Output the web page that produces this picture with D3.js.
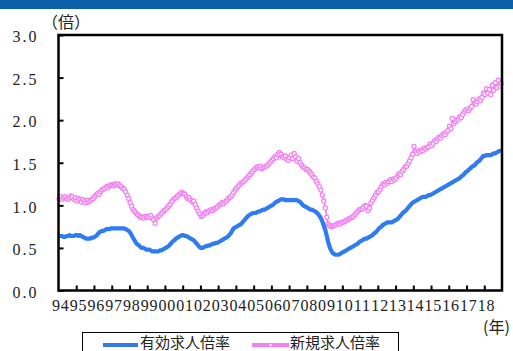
<!DOCTYPE html>
<html>
<head>
<meta charset="utf-8">
<script src="https://cdn.jsdelivr.net/npm/d3@7"></script>
<style>
  html, body { margin: 0; padding: 0; background: #fff; }
  svg { display: block; }
  .num { font-family: "Liberation Serif", "DejaVu Serif", serif; fill: #222; }
  .jp { font-family: "Noto Sans CJK JP", sans-serif; fill: #222; }
</style>
</head>
<body>
<svg id="chart" width="513" height="351"></svg>
<script>
// Monthly ratios, January 1994 – December 2018 (one row of 12 per year)
const years = d3.range(1994, 2019);
const yearLabels = years.map(y => String(y % 100).padStart(2, "0"));

const activeRatio = [ // 有効求人倍率
  0.64,0.64,0.64,0.63,0.63,0.64,0.64,0.65,0.64,0.64,0.64,0.65,
  0.65,0.64,0.65,0.64,0.63,0.62,0.61,0.61,0.61,0.61,0.62,0.62,
  0.63,0.64,0.66,0.68,0.69,0.70,0.70,0.71,0.72,0.72,0.72,0.73,
  0.73,0.73,0.73,0.73,0.73,0.73,0.73,0.73,0.73,0.72,0.71,0.70,
  0.68,0.65,0.62,0.59,0.56,0.54,0.53,0.51,0.50,0.50,0.49,0.48,
  0.48,0.48,0.47,0.46,0.46,0.46,0.46,0.46,0.47,0.47,0.48,0.49,
  0.50,0.51,0.52,0.54,0.56,0.58,0.59,0.61,0.62,0.63,0.64,0.65,
  0.65,0.64,0.64,0.63,0.62,0.61,0.60,0.59,0.57,0.55,0.53,0.51,
  0.50,0.50,0.51,0.52,0.52,0.53,0.53,0.54,0.55,0.55,0.56,0.56,
  0.57,0.58,0.59,0.60,0.61,0.62,0.63,0.65,0.67,0.70,0.73,0.74,
  0.75,0.76,0.77,0.78,0.80,0.82,0.84,0.86,0.88,0.89,0.90,0.91,
  0.91,0.91,0.92,0.93,0.93,0.94,0.95,0.95,0.96,0.97,0.98,0.99,
  1.00,1.01,1.03,1.04,1.05,1.06,1.07,1.07,1.07,1.06,1.06,1.06,
  1.06,1.06,1.06,1.06,1.06,1.06,1.05,1.04,1.02,1.00,0.99,0.98,
  0.97,0.96,0.95,0.95,0.94,0.93,0.92,0.90,0.88,0.85,0.81,0.76,
  0.71,0.64,0.57,0.51,0.47,0.44,0.43,0.42,0.42,0.42,0.43,0.44,
  0.45,0.46,0.47,0.48,0.49,0.50,0.51,0.52,0.53,0.54,0.55,0.57,
  0.58,0.59,0.60,0.61,0.61,0.62,0.63,0.64,0.65,0.67,0.68,0.70,
  0.72,0.74,0.75,0.77,0.78,0.79,0.80,0.80,0.80,0.80,0.81,0.82,
  0.83,0.84,0.86,0.88,0.90,0.92,0.93,0.95,0.97,0.99,1.01,1.03,
  1.04,1.05,1.06,1.07,1.08,1.09,1.10,1.10,1.10,1.11,1.12,1.12,
  1.13,1.14,1.15,1.16,1.17,1.18,1.19,1.20,1.21,1.22,1.23,1.24,
  1.25,1.26,1.27,1.28,1.29,1.30,1.31,1.32,1.34,1.35,1.37,1.39,
  1.40,1.42,1.43,1.45,1.46,1.47,1.49,1.51,1.52,1.54,1.56,1.58,
  1.58,1.59,1.59,1.59,1.59,1.60,1.61,1.61,1.62,1.63,1.64,1.63
];

const newRatio = [ // 新規求人倍率
  1.08,1.10,1.07,1.09,1.10,1.08,1.07,1.09,1.11,1.10,1.07,1.09,
  1.05,1.08,1.06,1.04,1.07,1.05,1.03,1.06,1.04,1.05,1.07,1.08,
  1.10,1.12,1.14,1.13,1.16,1.18,1.19,1.20,1.22,1.21,1.23,1.24,
  1.24,1.23,1.25,1.24,1.25,1.23,1.22,1.20,1.19,1.16,1.12,1.08,
  1.03,0.99,0.95,0.93,0.91,0.89,0.88,0.86,0.86,0.85,0.87,0.86,
  0.87,0.86,0.88,0.85,0.83,0.79,0.85,0.87,0.88,0.90,0.92,0.94,
  0.95,0.97,0.99,1.01,1.04,1.06,1.08,1.09,1.11,1.12,1.14,1.15,
  1.14,1.13,1.10,1.08,1.09,1.06,1.04,1.05,1.01,0.97,0.93,0.90,
  0.87,0.88,0.90,0.92,0.91,0.93,0.94,0.95,0.94,0.96,0.97,0.98,
  1.00,1.01,1.03,1.02,1.04,1.05,1.07,1.09,1.10,1.12,1.15,1.18,
  1.20,1.22,1.24,1.26,1.27,1.28,1.30,1.32,1.34,1.36,1.38,1.40,
  1.42,1.44,1.45,1.44,1.46,1.43,1.44,1.45,1.46,1.47,1.49,1.51,
  1.53,1.55,1.57,1.56,1.60,1.62,1.60,1.57,1.56,1.58,1.54,1.53,
  1.56,1.59,1.55,1.61,1.57,1.52,1.55,1.50,1.47,1.45,1.44,1.42,
  1.42,1.40,1.38,1.36,1.33,1.32,1.28,1.25,1.22,1.18,1.12,1.05,
  0.97,0.86,0.78,0.76,0.75,0.76,0.76,0.77,0.78,0.79,0.78,0.80,
  0.80,0.81,0.82,0.83,0.84,0.85,0.86,0.87,0.89,0.91,0.93,0.95,
  0.95,0.96,0.98,1.00,0.99,0.94,0.97,1.03,1.06,1.09,1.12,1.15,
  1.16,1.19,1.22,1.25,1.24,1.27,1.26,1.28,1.30,1.28,1.31,1.30,
  1.32,1.35,1.37,1.36,1.40,1.42,1.45,1.46,1.49,1.52,1.56,1.60,
  1.69,1.63,1.61,1.64,1.63,1.65,1.64,1.67,1.66,1.68,1.69,1.72,
  1.70,1.73,1.76,1.75,1.78,1.80,1.79,1.82,1.84,1.83,1.86,1.88,
  1.93,1.90,2.02,1.96,1.98,2.00,2.01,2.04,2.03,2.07,2.10,2.12,
  2.13,2.11,2.14,2.16,2.24,2.20,2.19,2.22,2.25,2.23,2.27,2.32,
  2.30,2.37,2.32,2.36,2.30,2.41,2.35,2.44,2.38,2.47,2.40,2.43
];

const yTicks = [0, 0.5, 1.0, 1.5, 2.0, 2.5, 3.0];
const seriesNames = ["有効求人倍率", "新規求人倍率"];
const colors = { active: "#2f7bf2", fresh: "#f47ef4", band: "#0b5ea8" };

const svg = d3.select("#chart");
const W = 513, H = 351;
const plot = { left: 58.5, right: 502, top: 35, bottom: 290.5 };

// top colour band
svg.append("rect").attr("x", 0).attr("y", 0).attr("width", W).attr("height", 9)
  .attr("fill", colors.band);

const start = new Date(1994, 0, 1), end = new Date(2019, 0, 1);
const x = d3.scaleTime().domain([start, end]).range([plot.left, plot.right]);
const y = d3.scaleLinear().domain([0, 3]).range([plot.bottom, plot.top]);

// month midpoints
const monthDate = i => new Date(1994, i, 15);
const activeData = activeRatio.map((v, i) => ({ d: monthDate(i), v }));
const newData = newRatio.map((v, i) => ({ d: monthDate(i), v }));

// y axis: inward ticks, labels on the left
const yAxis = d3.axisLeft(y).tickValues(yTicks).tickSize(-5).tickPadding(20)
  .tickFormat(d3.format(".1f"));
const gy = svg.append("g").attr("transform", `translate(${plot.left},0)`).call(yAxis);
gy.select(".domain").remove();
gy.selectAll(".tick line").attr("stroke", "#000").attr("stroke-width", 2);
gy.selectAll(".tick text").attr("class", "num").attr("font-size", 16)
  .attr("letter-spacing", "2px").attr("dy", "0.42em").attr("fill", "#222");

// x axis: year-boundary ticks
const yearStarts = d3.range(1995, 2019).map(yy => new Date(yy, 0, 1));
const xAxis = d3.axisBottom(x).tickValues(yearStarts).tickSize(-5).tickFormat("");
const gx = svg.append("g").attr("transform", `translate(0,${plot.bottom})`).call(xAxis);
gx.select(".domain").remove();
gx.selectAll(".tick line").attr("stroke", "#000").attr("stroke-width", 2);

// year labels, one per year, run together as a continuous strip
const xLab = d3.axisBottom(x).tickValues(years.map(yy => new Date(yy, 6, 1)))
  .tickSize(0).tickPadding(9).tickFormat((d, i) => yearLabels[i]);
const gl = svg.append("g").attr("transform", `translate(-7,${plot.bottom})`).call(xLab);
gl.select(".domain").remove();
gl.selectAll(".tick text").attr("class", "num").attr("font-size", 16)
  .attr("letter-spacing", "0.8px").attr("fill", "#222");

// series lines
const line = d3.line().x(d => x(d.d)).y(d => y(d.v));
svg.append("path").datum(newData).attr("d", line)
  .attr("fill", "none").attr("stroke", colors.fresh).attr("stroke-width", 1.6);
svg.append("g").selectAll("circle").data(newData).join("circle")
  .attr("cx", d => x(d.d)).attr("cy", d => y(d.v)).attr("r", 2.1)
  .attr("fill", "#fff").attr("stroke", colors.fresh).attr("stroke-width", 1.2);
svg.append("path").datum(activeData).attr("d", line)
  .attr("fill", "none").attr("stroke", colors.active).attr("stroke-width", 4.2)
  .attr("stroke-linejoin", "round");

// frame
svg.append("rect").attr("x", plot.left).attr("y", plot.top)
  .attr("width", plot.right - plot.left).attr("height", plot.bottom - plot.top)
  .attr("fill", "none").attr("stroke", "#000").attr("stroke-width", 2.5);

// units
svg.append("text").attr("class", "jp").attr("x", 42).attr("y", 28)
  .attr("font-size", 16).text("（倍）");
svg.append("text").attr("class", "jp").attr("x", 483).attr("y", 333)
  .attr("font-size", 16).text("(年)");

// legend
const lg = svg.append("g");
lg.append("rect").attr("x", 82.5).attr("y", 332.5).attr("width", 316).attr("height", 30)
  .attr("fill", "#fff").attr("stroke", "#000").attr("stroke-width", 1);
lg.append("line").attr("x1", 103).attr("x2", 138).attr("y1", 345).attr("y2", 345)
  .attr("stroke", colors.active).attr("stroke-width", 4);
lg.append("text").attr("class", "jp").attr("x", 140).attr("y", 348)
  .attr("font-size", 15).text(seriesNames[0]);
lg.append("line").attr("x1", 252).attr("x2", 289).attr("y1", 345).attr("y2", 345)
  .attr("stroke", colors.fresh).attr("stroke-width", 4);
lg.append("circle").attr("cx", 270.5).attr("cy", 345).attr("r", 1.6)
  .attr("fill", "#fff").attr("stroke", colors.fresh).attr("stroke-width", 0.8);
lg.append("text").attr("class", "jp").attr("x", 290).attr("y", 348)
  .attr("font-size", 15).text(seriesNames[1]);
</script>
</body>
</html>
